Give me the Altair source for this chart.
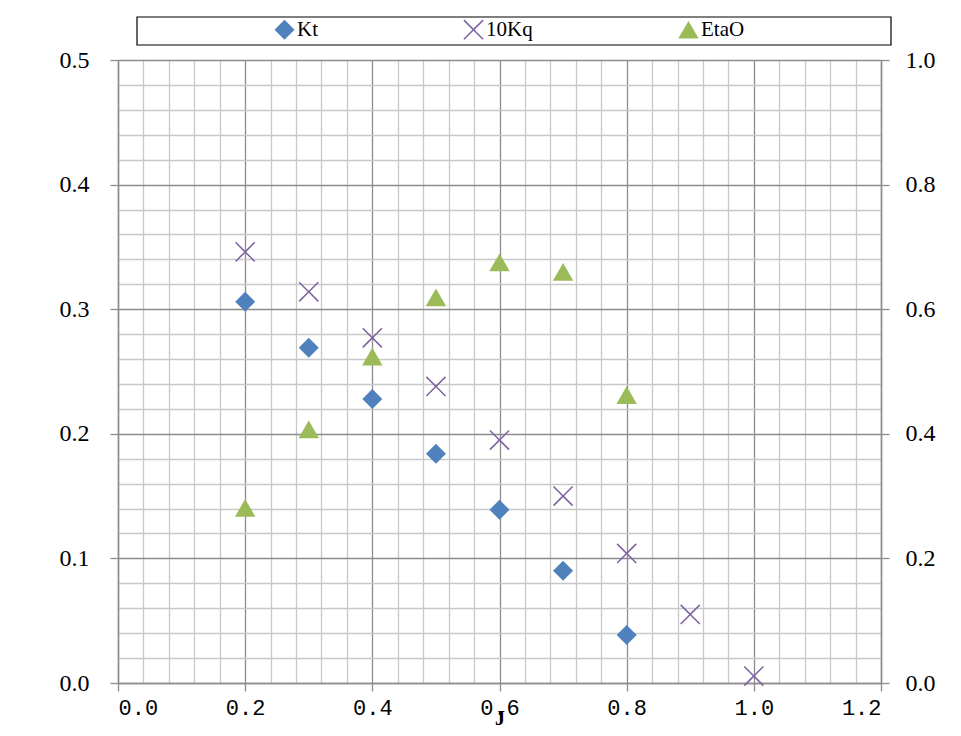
import altair as alt
import pandas as pd

# ---- data ----
series = ["Kt", "10Kq", "EtaO"]
colors = ["#4f81bd", "#8064a2", "#9bbb59"]

J_kt = [0.2, 0.3, 0.4, 0.5, 0.6, 0.7, 0.8]
kt = [0.306, 0.269, 0.228, 0.184, 0.139, 0.090, 0.0385]

J_kq = [0.2, 0.3, 0.4, 0.5, 0.6, 0.7, 0.8, 0.9, 1.0]
kq10 = [0.346, 0.314, 0.277, 0.238, 0.195, 0.150, 0.104, 0.055, 0.0056]

J_eta = [0.2, 0.3, 0.4, 0.5, 0.6, 0.7, 0.8]
eta = [0.281, 0.407, 0.524, 0.619, 0.675, 0.660, 0.462]

x_ticks = [round(i * 0.04, 2) for i in range(31)]
y_ticks = [round(i * 0.02, 2) for i in range(26)]
y2_ticks = [0.0, 0.2, 0.4, 0.6, 0.8, 1.0]

left_df = pd.DataFrame(
    [{"J": j, "value": v, "series": "Kt"} for j, v in zip(J_kt, kt)]
    + [{"J": j, "value": v, "series": "10Kq"} for j, v in zip(J_kq, kq10)]
)
right_df = pd.DataFrame([{"J": j, "value": v, "series": "EtaO"} for j, v in zip(J_eta, eta)])

X_PATH = ("M-0.89,-1L0,-0.11L0.89,-1L1,-0.89L0.11,0L1,0.89L0.89,1L0,0.11"
          "L-0.89,1L-1,0.89L-0.11,0L-1,-0.89Z")

MAJOR = "#8c8c8c"
MINOR = "#c8c8c8"

shape_scale = alt.Scale(domain=series, range=["diamond", X_PATH, "triangle-up"])
color_scale = alt.Scale(domain=series, range=colors)
size_scale = alt.Scale(domain=series, range=[400, 420, 540])

legend = alt.Legend(
    title=None, orient="none", legendX=156, legendY=-41, direction="horizontal",
    labelFont="Liberation Serif", labelFontSize=21, labelColor="#000000",
    symbolSize=160, columnPadding=145, labelOffset=2, padding=0,
    symbolStrokeWidth=0,
)

x_major = "abs(datum.value*5 - round(datum.value*5)) < 0.001"
y_major = "abs(datum.value*10 - round(datum.value*10)) < 0.001"

x_enc = alt.X(
    "J:Q",
    scale=alt.Scale(domain=[0, 1.2], nice=False, zero=False),
    axis=alt.Axis(
        values=x_ticks, grid=True,
        gridColor={"condition": {"test": x_major, "value": MAJOR}, "value": MINOR},
        gridWidth=1.3,
        tickColor=MAJOR, tickWidth=1.3, tickSize=8,
        tickOpacity={"condition": {"test": x_major, "value": 1}, "value": 0},
        labelExpr=f"{x_major} ? format(datum.value, '.1f') : ''",
        labelFont="Liberation Mono", labelFontSize=22, labelColor="#000000",
        labelPadding=6, labelOverlap=False,
        domainColor=MAJOR, domainWidth=1.5,
        title="J", titleFont="Liberation Serif", titleFontSize=20,
        titleFontWeight="bold", titleColor="#000000", titleY=45, titleBaseline="bottom",
    ),
)

shape_enc = alt.Shape("series:N", scale=shape_scale, legend=legend)
color_enc = alt.Color("series:N", scale=color_scale, legend=legend)
size_enc = alt.Size("series:N", scale=size_scale, legend=None)

box = alt.Chart(alt.Data(values=[{}])).mark_rect(
    fill="white", stroke="#000000", strokeWidth=1.2
).encode(
    x=alt.value(19), x2=alt.value(773), y=alt.value(-43), y2=alt.value(-15)
)

left = alt.Chart(left_df).mark_point(filled=True, opacity=1, strokeWidth=0).encode(
    x=x_enc,
    y=alt.Y(
        "value:Q",
        scale=alt.Scale(domain=[0, 0.5], nice=False, zero=False),
        axis=alt.Axis(
            values=y_ticks, grid=True, orient="left",
            gridColor={"condition": {"test": y_major, "value": MAJOR}, "value": MINOR},
            gridWidth=1.3,
            tickColor=MAJOR, tickWidth=1.3, tickSize=8,
            tickOpacity={"condition": {"test": y_major, "value": 1}, "value": 0},
            labelExpr=f"{y_major} ? format(datum.value, '.1f') : ''",
            labelFont="Liberation Serif", labelFontSize=24, labelColor="#000000",
            labelPadding=21, labelOverlap=False,
            domainColor=MAJOR, domainWidth=1.5, title=None,
        ),
    ),
    shape=shape_enc, color=color_enc, size=size_enc,
)

right = alt.Chart(right_df).mark_point(filled=True, opacity=1, strokeWidth=0).encode(
    x=x_enc,
    y=alt.Y(
        "value:Q",
        scale=alt.Scale(domain=[0, 1.0], nice=False, zero=False),
        axis=alt.Axis(
            values=y2_ticks, grid=False, orient="right",
            tickColor=MAJOR, tickWidth=1.3, tickSize=8,
            format=".1f",
            labelFont="Liberation Serif", labelFontSize=24, labelColor="#000000",
            labelPadding=16, labelOverlap=False,
            domainColor=MAJOR, domainWidth=1.5, title=None,
        ),
    ),
    shape=shape_enc, color=color_enc, size=size_enc,
)

chart = alt.layer(box, left, right).resolve_scale(y="independent").properties(
    width=763, height=623,
    autosize=alt.AutoSizeParams(type="none"),
    padding={"left": 110, "top": 52, "right": 72, "bottom": 45},
).configure_view(stroke=None).configure(background="white")

chart.save("out.html", embed_options={"renderer": "svg", "actions": False})
